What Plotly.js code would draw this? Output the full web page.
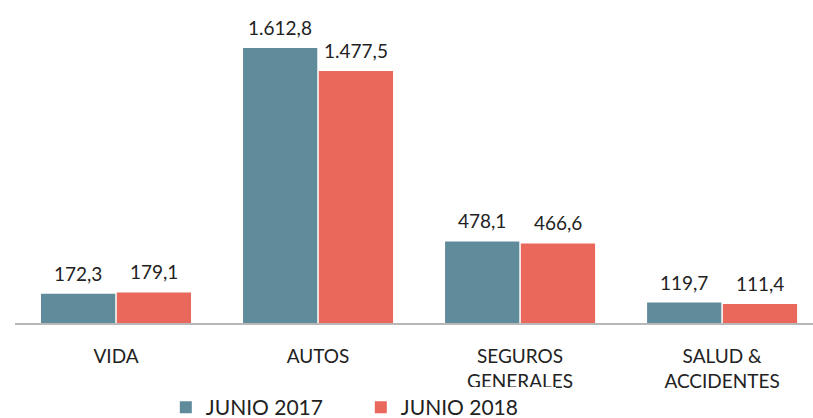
<!DOCTYPE html>
<html>
<head>
<meta charset="utf-8">
<script src="https://cdn.plot.ly/plotly-3.0.1.min.js"></script>
<style>html,body{margin:0;padding:0;background:#fff;}#chart{width:813px;height:418px;}</style>
</head>
<body>
<div id="chart"></div>
<script>
var categories = ["VIDA", "AUTOS", "SEGUROS<br>GENERALES", "SALUD &<br>ACCIDENTES"];
var seriesNames = ["JUNIO 2017", "JUNIO 2018"];
var junio2017 = [172.3, 1612.8, 478.1, 119.7];
var junio2018 = [179.1, 1477.5, 466.6, 111.4];

function fmt(v) {
  var parts = v.toFixed(1).split(".");
  var intPart = parts[0].replace(/\B(?=(\d{3})+(?!\d))/g, ".");
  return intPart + "," + parts[1];
}

var colors = ["#608b9b", "#e9675b"];
var font = "Lato, Open Sans, Arial, sans-serif";

var traces = [
  {type: "bar", name: seriesNames[0], x: categories, y: junio2017, marker: {color: colors[0]}, hoverinfo: "none"},
  {type: "bar", name: seriesNames[1], x: categories, y: junio2018, marker: {color: colors[1]}, hoverinfo: "none"}
];

var annotations = [];
[junio2017, junio2018].forEach(function (arr, s) {
  arr.forEach(function (v, i) {
    annotations.push({
      x: categories[i], y: v, xref: "x", yref: "y",
      text: fmt(v), showarrow: false,
      xshift: s === 0 ? -38 : 38, yshift: 7,
      yanchor: "bottom",
      font: {family: font, size: 19, color: "#222"}
    });
  });
});

var layout = {
  width: 813, height: 418,
  margin: {l: 15, r: 0, t: 10, b: 95, autoexpand: false},
  paper_bgcolor: "#fff", plot_bgcolor: "#fff",
  barmode: "group", bargap: 0.25, bargroupgap: 0.02,
  showlegend: true,
  legend: {orientation: "h", x: 0.189, xanchor: "left", y: -0.3355, yanchor: "bottom",
           font: {family: font, size: 21, color: "#222"}, entrywidth: 150, entrywidthmode: "pixels"},
  xaxis: {range: [-0.5, 3.45], showgrid: false, zeroline: false, showline: true, linecolor: "#b8b8b8", linewidth: 1.5,
          ticks: "outside", ticklen: 16, tickcolor: "rgba(0,0,0,0)",
          tickfont: {family: font, size: 19, color: "#222"}, fixedrange: true},
  yaxis: {range: [0, 1836], visible: false, fixedrange: true},
  annotations: annotations
};

Plotly.newPlot("chart", traces, layout, {displayModeBar: false, staticPlot: true});
</script>
</body>
</html>
